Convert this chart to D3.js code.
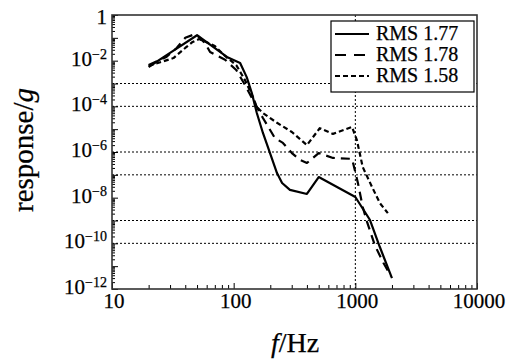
<!DOCTYPE html>
<html>
<head>
    <meta charset="utf-8">
    <title>Response spectrum</title>
    <script src="https://d3js.org/d3.v7.min.js"></script>
    <style>
        body { margin: 0; background: #fff; }
        text { font-family: "Liberation Serif", "DejaVu Serif", serif; fill: #000; stroke: #000; stroke-width: 0.25px; }
    </style>
</head>

<body>
<div id="chart"></div>
<script type="text/javascript">
    let w = 509;
    let h = 360;

    // series (f in Hz, response in g)
    let f177 = [20, 30, 50, 88, 113, 128, 141, 155, 174, 199, 227, 250, 290, 400, 500, 1000, 1320, 1590, 2000];
    let r177 = [5.3e-3, 2.2e-2, 0.13, 1.45e-2, 7.9e-3, 1.9e-3, 3.8e-4, 5.1e-5, 6.8e-6, 9e-7, 1.2e-7, 4.4e-8, 2.2e-8, 1.45e-8, 8e-8, 1.07e-8, 1.05e-9, 6.9e-11, 3e-12];

    let f178 = [20, 28, 34, 40, 46, 50, 58, 64, 85, 105, 124, 144, 174, 218, 254, 301, 350, 400, 500, 655, 940, 1000, 1050, 1150, 1250, 1450, 1700, 1960];
    let r178 = [6.5e-3, 1.45e-2, 3.6e-2, 0.1, 0.133, 0.13, 6e-2, 2.4e-2, 1.1e-2, 3.9e-3, 8.6e-4, 1.9e-4, 3.1e-5, 4.1e-6, 2.5e-6, 9e-7, 4.5e-7, 3.3e-7, 9e-7, 5.5e-7, 5e-7, 1.3e-7, 4.4e-8, 3.9e-9, 8.5e-10, 8e-11, 1.4e-11, 3.7e-12];

    let f158 = [20, 32, 40, 46, 52, 70, 85, 105, 124, 144, 155, 174, 227, 301, 400, 510, 655, 940, 1030, 1150, 1370, 1590, 1850];
    let r158 = [5.9e-3, 1.3e-2, 3.6e-2, 6.6e-2, 8.9e-2, 4.4e-2, 1.6e-2, 6.4e-3, 1.4e-3, 2.6e-4, 9.3e-5, 5.1e-5, 1.9e-5, 7.5e-6, 2e-6, 1.1e-5, 6.2e-6, 1.25e-5, 3.3e-6, 2.2e-7, 3e-8, 5.8e-9, 2.1e-9];

    let seriesNames = ["RMS 1.77", "RMS 1.78", "RMS 1.58"];
    let xTicks = [10, 100, 1000, 10000];
    let yLabelExps = [0, -2, -4, -6, -8, -10, -12];
    let gridExps = [-3, -4, -6, -7, -9, -10];
    let gridFreqs = [1000];

    let series = [
        {name: seriesNames[0], f: f177, r: r177, dash: null},
        {name: seriesNames[1], f: f178, r: r178, dash: "9,6"},
        {name: seriesNames[2], f: f158, r: r158, dash: "5,3"}
    ];

    let pLeft = 112, pRight = 477, pTop = 15, pBottom = 289;

    let xScale = d3.scaleLog().domain([10, 10000]).range([pLeft, pRight]);
    let yScale = d3.scaleLog().domain([1, 1e-12]).range([pTop, pBottom]);

    let svg = d3.select("#chart")
                .append("svg")
                .attr("width", w)
                .attr("height", h);

    // grid lines
    svg.selectAll("line.hgrid")
        .data(gridExps)
        .enter()
        .append("line")
        .attr("x1", pLeft).attr("x2", pRight)
        .attr("y1", function(d) { return yScale(Math.pow(10, d)); })
        .attr("y2", function(d) { return yScale(Math.pow(10, d)); })
        .attr("stroke", "#000")
        .attr("stroke-width", 1)
        .attr("stroke-dasharray", "2,2");

    svg.selectAll("line.vgrid")
        .data(gridFreqs)
        .enter()
        .append("line")
        .attr("y1", pTop).attr("y2", pBottom)
        .attr("x1", function(d) { return xScale(d); })
        .attr("x2", function(d) { return xScale(d); })
        .attr("stroke", "#000")
        .attr("stroke-width", 1)
        .attr("stroke-dasharray", "2,2");

    // minor / major tick values
    let yMajor = d3.range(0, -13, -1).map(function(e) { return Math.pow(10, e); });
    let yMinor = [];
    for (let e = -12; e < 0; e++) {
        for (let m = 2; m < 10; m++) yMinor.push(m * Math.pow(10, e));
    }
    let xMinor = [];
    for (let e = 1; e < 4; e++) {
        for (let m = 2; m < 10; m++) xMinor.push(m * Math.pow(10, e));
    }

    // y axis ticks (inward)
    svg.append("g")
        .attr("transform", "translate(" + pLeft + ",0)")
        .call(d3.axisLeft(yScale).tickValues(yMinor).tickSize(-3).tickFormat(""))
        .call(function(g) { g.select(".domain").remove(); });
    svg.append("g")
        .attr("transform", "translate(" + pLeft + ",0)")
        .call(d3.axisLeft(yScale).tickValues(yMajor).tickSize(-6).tickFormat(""))
        .call(function(g) { g.select(".domain").remove(); });

    // x axis ticks (inward)
    svg.append("g")
        .attr("transform", "translate(0," + pBottom + ")")
        .call(d3.axisBottom(xScale).tickValues(xMinor).tickSize(-4).tickFormat(""))
        .call(function(g) { g.select(".domain").remove(); });
    svg.append("g")
        .attr("transform", "translate(0," + pBottom + ")")
        .call(d3.axisBottom(xScale).tickValues(xTicks).tickSize(-6).tickFormat(""))
        .call(function(g) { g.select(".domain").remove(); });

    svg.selectAll(".tick line").attr("stroke", "#000");

    // y labels with superscript
    let yl = svg.selectAll("text.ylab")
        .data(yLabelExps)
        .enter()
        .append("text")
        .attr("x", 107)
        .attr("y", function(d) { return yScale(Math.pow(10, d)) + (d === 0 ? 9 : 5); })
        .attr("text-anchor", "end")
        .attr("font-size", "21px");
    yl.each(function(d) {
        let t = d3.select(this);
        if (d === 0) {
            t.text("1");
        } else {
            t.append("tspan").text("10");
            t.append("tspan").attr("font-size", "14px").attr("dy", -7).text("\u2212" + (-d));
        }
    });

    // x labels
    svg.selectAll("text.xlab")
        .data(xTicks)
        .enter()
        .append("text")
        .attr("x", function(d) { return xScale(d) + 2; })
        .attr("y", 308)
        .attr("text-anchor", "middle")
        .attr("font-size", "21px")
        .text(function(d) { return d; });

    // curves
    let line = d3.line()
        .x(function(d) { return xScale(d[0]); })
        .y(function(d) { return yScale(d[1]); });

    svg.selectAll("path.curve")
        .data(series)
        .enter()
        .append("path")
        .attr("d", function(s) { return line(s.f.map(function(v, i) { return [v, s.r[i]]; })); })
        .attr("fill", "none")
        .attr("stroke", "#000")
        .attr("stroke-width", 2.2)
        .attr("stroke-linejoin", "round")
        .attr("stroke-dasharray", function(s) { return s.dash; });

    // frame
    svg.append("rect")
        .attr("x", pLeft).attr("y", pTop)
        .attr("width", pRight - pLeft).attr("height", pBottom - pTop)
        .attr("fill", "none")
        .attr("stroke", "#333")
        .attr("stroke-width", 1.6);

    // legend
    let lg = svg.append("g");
    lg.append("rect")
        .attr("x", 331).attr("y", 21)
        .attr("width", 143).attr("height", 71)
        .attr("fill", "#fff")
        .attr("stroke", "#000")
        .attr("stroke-width", 1.2);
    series.forEach(function(s, i) {
        let yy = 34 + i * 21;
        lg.append("line")
            .attr("x1", 335).attr("x2", 369)
            .attr("y1", yy).attr("y2", yy)
            .attr("stroke", "#000")
            .attr("stroke-width", 2.2)
            .attr("stroke-dasharray", i === 1 ? "11,8" : s.dash);
        lg.append("text")
            .attr("x", 376)
            .attr("y", yy + 6)
            .attr("font-size", "20px")
            .text(s.name);
    });

    // axis titles
    let yt = svg.append("text")
        .attr("transform", "translate(33,150) rotate(-90)")
        .attr("text-anchor", "middle")
        .attr("font-size", "29px");
    yt.append("tspan").text("response/");
    yt.append("tspan").attr("font-style", "italic").text("g");

    let xt = svg.append("text")
        .attr("x", 295)
        .attr("y", 352)
        .attr("text-anchor", "middle")
        .attr("font-size", "28px");
    xt.append("tspan").attr("font-style", "italic").text("f");
    xt.append("tspan").text("/Hz");
</script>
</body>
</html>
